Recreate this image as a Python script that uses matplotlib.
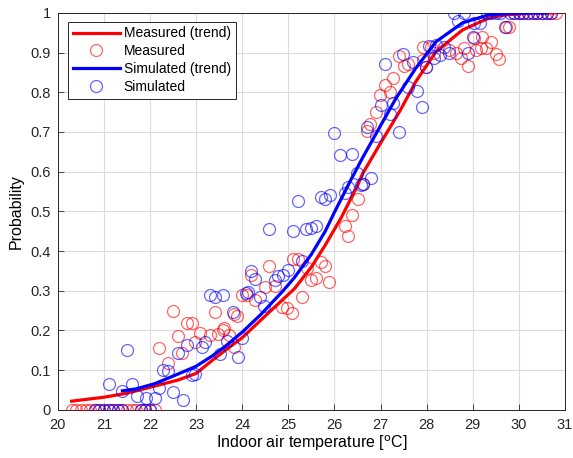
import numpy as np
import matplotlib
matplotlib.use("Agg")
import matplotlib.pyplot as plt

plt.rcParams["font.family"] = ["Liberation Sans", "DejaVu Sans"]
plt.rcParams["mathtext.default"] = "regular"

# trend curves
meas_trend_t = [20.3, 21.0, 21.5, 22.1, 22.6, 23.0, 23.35, 23.63, 24.0, 24.4, 24.87, 25.13,
                25.5, 25.8, 26.15, 26.5, 26.61, 27.0, 27.43, 27.76, 28.2, 28.78, 29.35, 29.72,
                30.2, 30.8]
meas_trend_p = [0.022, 0.032, 0.042, 0.060, 0.075, 0.092, 0.125, 0.150, 0.182, 0.226, 0.277, 0.305,
                0.360, 0.415, 0.485, 0.565, 0.595, 0.672, 0.755, 0.826, 0.902, 0.957, 0.987, 0.995,
                0.999, 1.0]
sim_trend_t = [21.4, 21.7, 22.1, 22.6, 23.0, 23.35, 23.63, 24.0, 24.4, 24.87, 25.13, 25.5,
               25.8, 26.0, 26.35, 26.61, 27.0, 27.33, 27.76, 28.2, 28.78, 29.35, 29.8, 30.2, 30.6]
sim_trend_p = [0.048, 0.053, 0.066, 0.090, 0.110, 0.136, 0.160, 0.196, 0.240, 0.298, 0.333, 0.392,
               0.450, 0.498, 0.578, 0.635, 0.716, 0.784, 0.860, 0.927, 0.975, 0.995, 0.999, 1.0, 1.0]

# measured points
meas_t = [20.3, 20.4, 20.5, 20.6, 20.7, 20.8, 20.9, 21.0, 21.1, 21.2, 21.3, 21.4, 21.5, 21.6,
          21.7, 21.8, 21.9, 22.0, 22.1,
          22.2, 22.39, 22.5, 22.61, 22.7, 22.8, 22.91, 22.98, 23.09, 23.3, 23.41, 23.48, 23.59,
          23.6, 23.72, 23.83, 23.83, 23.89, 24.0, 24.1, 24.2, 24.28, 24.5, 24.59, 24.72, 24.87,
          24.98, 25.07, 25.1, 25.2, 25.3, 25.41, 25.48, 25.59, 25.7, 25.8, 25.89, 26.22, 26.3,
          26.39, 26.5, 26.61, 26.7, 26.78, 26.89, 26.98, 27.09, 27.2, 27.28, 27.39, 27.5, 27.59,
          27.91, 27.93, 27.98, 28.09, 28.15, 28.48, 28.63, 28.74, 28.8, 28.89, 29.02, 29.07,
          29.17, 29.2, 29.28, 29.39, 29.5, 29.57, 29.72, 29.78,
          29.9, 30.0, 30.1, 30.2, 30.3, 30.4, 30.5, 30.6, 30.7, 30.8]
meas_p = [0, 0, 0, 0, 0, 0, 0, 0, 0, 0, 0, 0, 0, 0, 0, 0, 0, 0, 0,
          0.156, 0.118, 0.25, 0.186, 0.144, 0.22, 0.22, 0.171, 0.194, 0.189, 0.247, 0.19, 0.20,
          0.207, 0.189, 0.159, 0.242, 0.237, 0.29, 0.29, 0.34, 0.277, 0.31, 0.363, 0.312, 0.26,
          0.257, 0.244, 0.38, 0.38, 0.285, 0.358, 0.327, 0.332, 0.373, 0.363, 0.322, 0.463, 0.438,
          0.49, 0.53, 0.57, 0.703, 0.72, 0.75, 0.793, 0.819, 0.801, 0.836, 0.892, 0.867, 0.872,
          0.882, 0.914, 0.864, 0.914, 0.899, 0.907, 0.899, 0.887, 0.912, 0.867, 0.937, 0.907,
          0.912, 0.94, 0.912, 0.927, 0.897, 0.884, 0.965, 0.965,
          1, 1, 1, 1, 1, 1, 1, 1, 1, 1]

# simulated points
sim_t = [20.8, 20.9, 21.0, 21.1, 21.2, 21.3, 21.4, 21.8, 21.9, 22.0,
         21.1, 21.39, 21.5, 21.6, 21.72, 21.91, 22.1, 22.2, 22.28, 22.39, 22.5, 22.61, 22.72,
         22.8, 22.91, 22.98, 23.13, 23.2, 23.3, 23.41, 23.52, 23.59, 23.67, 23.8, 23.91, 24.0,
         24.07, 24.13, 24.2, 24.28, 24.39, 24.48, 24.59, 24.7, 24.78, 24.89, 25.0, 25.09, 25.2,
         25.3, 25.39, 25.5, 25.59, 25.7, 25.8, 25.91, 26.0, 26.11, 26.22, 26.3, 26.39, 26.48,
         26.57, 26.61, 26.7, 26.8, 26.89, 27.0, 27.09, 27.2, 27.28, 27.39, 27.48, 27.6, 27.7,
         27.8, 27.9, 27.98, 28.04, 28.15, 28.2, 28.28, 28.37, 28.48, 28.59, 28.67, 28.8, 28.89,
         29.0, 29.02, 29.15, 29.7,
         29.3, 29.4, 29.5, 29.6, 29.8, 29.9, 30.0, 30.1, 30.2, 30.3, 30.4, 30.5, 30.6, 30.7]
sim_p = [0, 0, 0, 0, 0, 0, 0, 0, 0, 0,
         0.065, 0.048, 0.151, 0.065, 0.035, 0.03, 0.03, 0.055, 0.10, 0.098, 0.045, 0.144, 0.025,
         0.164, 0.088, 0.09, 0.159, 0.171, 0.29, 0.285, 0.14, 0.29, 0.174, 0.247, 0.133, 0.18,
         0.295, 0.297, 0.35, 0.33, 0.285, 0.262, 0.456, 0.327, 0.337, 0.34, 0.353, 0.45, 0.526,
         0.375, 0.456, 0.458, 0.463, 0.537, 0.531, 0.542, 0.697, 0.642, 0.547, 0.562, 0.645, 0.597,
         0.567, 0.57, 0.713, 0.585, 0.69, 0.768, 0.871, 0.746, 0.773, 0.70, 0.897, 0.814, 0.877,
         0.804, 0.763, 0.864, 0.917, 0.887, 0.92, 0.894, 0.914, 0.899, 1.0, 0.98, 1.0, 0.899,
         0.94, 0.975, 0.975, 0.965,
         1, 1, 1, 1, 1, 1, 1, 1, 1, 1, 1, 1, 1, 1]

xticks = [20, 21, 22, 23, 24, 25, 26, 27, 28, 29, 30, 31]
yticks = [0, 0.1, 0.2, 0.3, 0.4, 0.5, 0.6, 0.7, 0.8, 0.9, 1]
ytick_labels = ["0", "0.1", "0.2", "0.3", "0.4", "0.5", "0.6", "0.7", "0.8", "0.9", "1"]

fig = plt.figure(figsize=(5.73, 4.58), dpi=100)
ax = fig.add_axes([0.101, 0.105, 0.885, 0.867])

ax.plot(meas_trend_t, meas_trend_p, color="#ff0000", lw=2.3, label="Measured (trend)", zorder=3)
ax.plot(meas_t, meas_p, "o", mfc="none", mec="#ff0000", mew=0.9, ms=8.6, alpha=0.6,
        label="Measured", zorder=4)
ax.plot(sim_trend_t, sim_trend_p, color="#0000ff", lw=2.3, label="Simulated (trend)", zorder=5)
ax.plot(sim_t, sim_p, "o", mfc="none", mec="#0000ff", mew=0.9, ms=8.6, alpha=0.6,
        label="Simulated", zorder=6)

ax.set_xlim(20, 31)
ax.set_ylim(0, 1)
ax.set_xticks(xticks)
ax.set_yticks(yticks)
ax.set_yticklabels(ytick_labels)
ax.tick_params(direction="in", length=4, labelsize=10.5, colors="#262626", width=0.6)
ax.tick_params(axis="x", pad=6)
ax.tick_params(axis="y", pad=5)
ax.grid(True, color="#dcdcdc", lw=0.8)
ax.set_axisbelow(True)
for s in ax.spines.values():
    s.set_color("#262626")
    s.set_linewidth(0.7)

ax.set_xlabel(r"Indoor air temperature [$^{\mathrm{o}}$C]", fontsize=11.5, labelpad=1)
ax.set_ylabel("Probability", fontsize=11.5, labelpad=5)

leg = ax.legend(loc="upper left", bbox_to_anchor=(0.02, 0.978), fontsize=10,
                handlelength=3.4, handletextpad=0.25, borderpad=0.35, labelspacing=0.28,
                fancybox=False, framealpha=1, edgecolor="#262626", borderaxespad=0.0)
leg.get_frame().set_linewidth(0.7)

fig.savefig("out.png", dpi=100)
